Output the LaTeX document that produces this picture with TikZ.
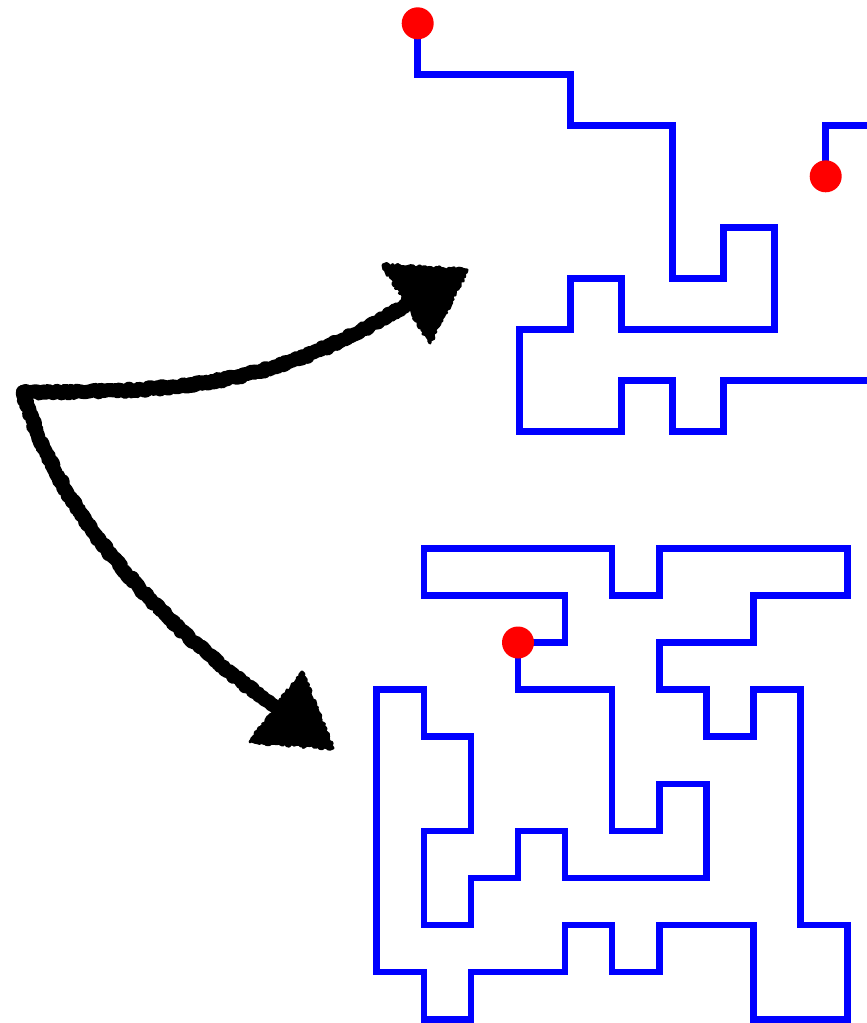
\documentclass[tikz,border=0pt]{standalone}
\usetikzlibrary{decorations.pathmorphing}
\begin{document}
\begin{tikzpicture}[x=1pt,y=-1pt,
  walk/.style={draw=blue, line width=6.5pt, line join=miter},
  enddot/.style={circle, fill=red, inner sep=0pt, minimum size=32pt},
  rough/.style={decorate, decoration={random steps, segment length=2.2pt, amplitude=1.6pt}},
  shaft/.style={rough, draw=black, line width=14pt, line cap=round, line join=round},
  headtri/.style={rough, fill=black, draw=black, line width=3pt, line join=round}]
\pgfmathsetseed{4242}
\useasboundingbox (0,0) rectangle (867,1023);
\clip (0,0) rectangle (867,1023);
% upper walk
\begin{scope}[shift={(417.7,23.3)}, x=51pt, y=-51pt]
  \coordinate (ta) at (0,0);
  \coordinate (tb) at (8,3);
  \draw[walk] (ta) -- (0,1) -- (3,1) -- (3,2) -- (5,2) -- (5,5) -- (6,5) -- (6,4) -- (7,4) -- (7,6) -- (4,6) -- (4,5) -- (3,5) -- (3,6) -- (2,6) -- (2,8) -- (4,8) -- (4,7) -- (5,7) -- (5,8) -- (6,8) -- (6,7) -- (9,7);
  \draw[walk] (tb) -- (8,2) -- (9,2);
  \node[enddot] (dotA) at (ta) {};
  \node[enddot] (dotB) at (tb) {};
\end{scope}
% lower loop
\begin{scope}[shift={(376.7,548.3)}, x=47.1pt, y=-47.1pt]
  \coordinate (ba) at (3,2);
  \draw[walk] (ba) -- (4,2) -- (4,1) -- (1,1) -- (1,0) -- (5,0) -- (5,1) -- (6,1) -- (6,0) -- (10,0) -- (10,1) -- (8,1) -- (8,2) -- (6,2) -- (6,3) -- (7,3) -- (7,4) -- (8,4) -- (8,3) -- (9,3) -- (9,8) -- (10,8) -- (10,10) -- (8,10) -- (8,8) -- (6,8) -- (6,9) -- (5,9) -- (5,8) -- (4,8) -- (4,9) -- (2,9) -- (2,10) -- (1,10) -- (1,9) -- (0,9) -- (0,3) -- (1,3) -- (1,4) -- (2,4) -- (2,6) -- (1,6) -- (1,8) -- (2,8) -- (2,7) -- (3,7) -- (3,6) -- (4,6) -- (4,7) -- (7,7) -- (7,5) -- (6,5) -- (6,6) -- (5,6) -- (5,3) -- (3,3) -- cycle;
  \node[enddot] (dotC) at (ba) {};
\end{scope}
% hand-drawn arrows
\coordinate (o) at (23,392);
\coordinate (h1) at (414,300);
\coordinate (h2) at (282,712);
\draw[shaft] (o) .. controls (205,393) and (285,380) .. (h1);
\draw[shaft] (o) .. controls (58,515) and (160,625) .. (h2);
\filldraw[headtri] (383,265) -- (467,270) -- (430,343) -- cycle;
\filldraw[headtri] (250,742) -- (333,748) -- (302,672) -- cycle;
\end{tikzpicture}
\end{document}
